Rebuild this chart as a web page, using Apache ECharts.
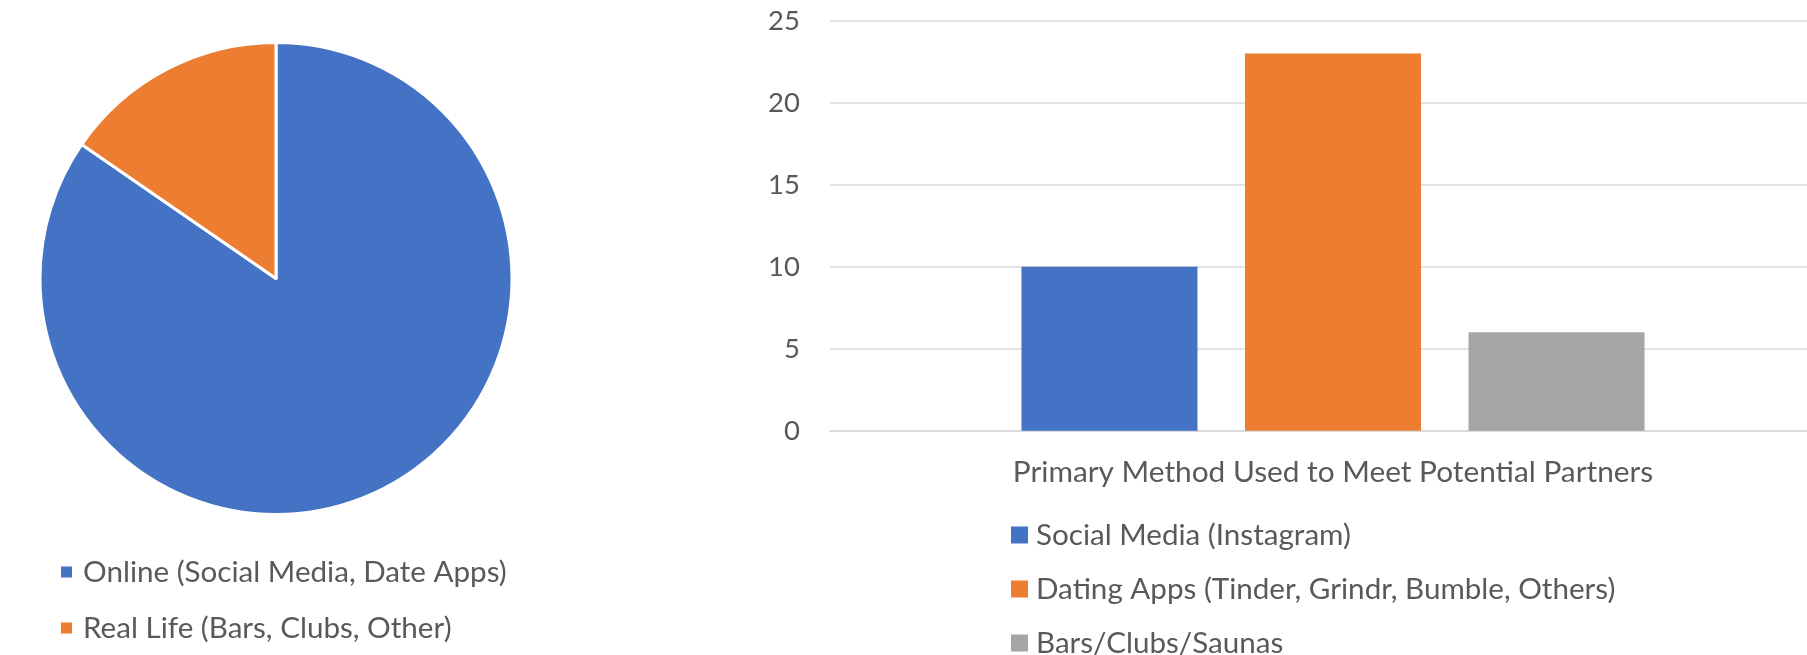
<!DOCTYPE html>
<html>
<head>
<meta charset="utf-8">
<script src="https://cdn.jsdelivr.net/npm/echarts@6/dist/echarts.min.js"></script>
<style>
  html, body { margin: 0; padding: 0; background: #fff; }
  #chart { width: 1807px; height: 655px; }
</style>
</head>
<body>
<div id="chart"></div>
<script>
  // pie: where people meet
  const pieNames = ['Online (Social Media, Date Apps)', 'Real Life (Bars, Clubs, Other)'];
  const pieValues = [33, 6];

  // bars: primary method
  const barCategories = ['Primary Method Used to Meet Potential Partners'];
  const barSeriesNames = ['Social Media (Instagram)', 'Dating Apps (Tinder, Grindr, Bumble, Others)', 'Bars/Clubs/Saunas'];
  const barValues = [10, 23, 6];
  const yTicks = [0, 5, 10, 15, 20, 25];

  const colors = ['#4472c4', '#ed7d31', '#a5a5a5'];
  const textColor = '#595959';
  const fontFamily = 'Lato, "Open Sans", sans-serif';
  const legendFontSize = 29.6;

  const chart = echarts.init(document.getElementById('chart'));

  const barSeries = barSeriesNames.map((name, i) => ({
    name: name,
    type: 'bar',
    data: [barValues[i]],
    barWidth: 176,
    barGap: '27%',
    itemStyle: { color: colors[i] },
    emphasis: { disabled: true }
  }));

  const legendText = {
    fontSize: legendFontSize,
    lineHeight: 30,
    color: textColor,
    fontFamily: fontFamily
  };

  const option = {
    animation: false,
    textStyle: { fontFamily: fontFamily, color: textColor },
    // plot runs past the right edge of the window, as in the reference
    grid: {
      left: 830,
      top: 20.7,
      width: 1006,
      height: 410,
      outerBoundsMode: 'none'
    },
    legend: [{
      data: pieNames,
      orient: 'vertical',
      left: 59,
      top: 557,
      height: 200,
      padding: 0,
      itemWidth: 13,
      itemHeight: 13,
      itemGap: 26,
      icon: 'rect',
      selectedMode: false,
      textStyle: Object.assign({}, legendText, { padding: [0, 0, 0, 5] })
    }, {
      data: barSeriesNames,
      orient: 'vertical',
      left: 1011,
      top: 520,
      height: 200,
      padding: 0,
      itemWidth: 17,
      itemHeight: 17,
      itemGap: 24,
      icon: 'rect',
      selectedMode: false,
      textStyle: Object.assign({}, legendText, { padding: [0, 0, 0, 3] })
    }],
    xAxis: {
      type: 'category',
      data: barCategories,
      axisLine: { lineStyle: { color: '#d9d9d9', width: 1.5 } },
      axisTick: { show: false },
      axisLabel: {
        fontSize: 29.8,
        color: textColor,
        fontFamily: fontFamily,
        margin: 27
      }
    },
    yAxis: {
      type: 'value',
      min: yTicks[0],
      max: yTicks[yTicks.length - 1],
      interval: yTicks[1] - yTicks[0],
      axisLine: { show: false },
      axisTick: { show: false },
      axisLabel: {
        fontSize: 27.5,
        color: textColor,
        fontFamily: fontFamily,
        margin: 30
      },
      splitLine: { lineStyle: { color: '#d9d9d9', width: 1.5 } }
    },
    series: [{
      type: 'pie',
      center: [276, 278.5],
      radius: 236,
      startAngle: 90,
      clockwise: true,
      label: { show: false },
      labelLine: { show: false },
      emphasis: { disabled: true },
      itemStyle: { borderColor: '#fff', borderWidth: 3 },
      data: pieNames.map((name, i) => ({
        name: name,
        value: pieValues[i],
        itemStyle: { color: colors[i] }
      }))
    }].concat(barSeries)
  };

  chart.setOption(option);
</script>
</body>
</html>
